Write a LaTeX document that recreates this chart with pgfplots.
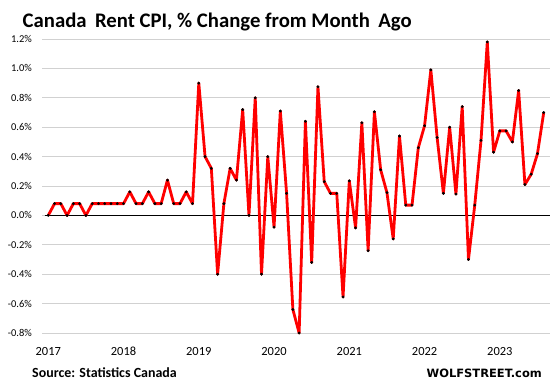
\documentclass[border=0pt]{standalone}
\usepackage{fontspec}
\setmainfont{Carlito}
\newfontfamily\dejavu{DejaVu Sans}
\usepackage{pgfplots}
\pgfplotsset{compat=1.18}
\begin{document}
\begin{tikzpicture}[x=1bp,y=1bp]
\path[use as bounding box] (0,0) rectangle (554,387);
\begin{axis}[at={(42bp,54bp)}, anchor=south west, scale only axis,
  width=508bp, height=294bp,
  xmin=-1, xmax=80, ymin=-0.8, ymax=1.2,
  axis line style={draw=none}, tick style={draw=none},
  ymajorgrids, grid style={black!18, line width=0.9bp},
  ytick={-0.8,-0.6,-0.4,-0.2,0,0.2,0.4,0.6,0.8,1.0,1.2},
  yticklabels={-0.8\%,-0.6\%,-0.4\%,-0.2\%,0.0\%,0.2\%,0.4\%,0.6\%,0.8\%,1.0\%,1.2\%},
  xtick={0,12,24,36,48,60,72},
  xticklabels={2017,2018,2019,2020,2021,2022,2023},
  yticklabel style={font=\fontsize{10.5}{12}\selectfont, anchor=east, inner sep=0pt, xshift=-10bp},
  xticklabel style={font=\fontsize{12.5}{14}\selectfont, anchor=base, inner sep=0pt, yshift=-22bp},
  clip=false]
\addplot[black, line width=1bp, forget plot] coordinates {(-0.6,0) (80,0)};
\addplot[red, line width=2.8bp, line join=round, mark=*, mark size=1.3bp, mark options={black, fill=black, line width=0.3bp}] coordinates {
(0,0) (1,0.08) (2,0.08) (3,0) (4,0.08) (5,0.08) (6,0) (7,0.08) (8,0.08) (9,0.08)
(10,0.08) (11,0.08) (12,0.08) (13,0.16) (14,0.08) (15,0.08) (16,0.16) (17,0.08) (18,0.08) (19,0.24)
(20,0.08) (21,0.08) (22,0.16) (23,0.08) (24,0.90) (25,0.40) (26,0.32) (27,-0.40) (28,0.08) (29,0.32)
(30,0.24) (31,0.72) (32,0.0) (33,0.80) (34,-0.40) (35,0.40) (36,-0.08) (37,0.71) (38,0.15) (39,-0.64)
(40,-0.80) (41,0.64) (42,-0.32) (43,0.875) (44,0.23) (45,0.15) (46,0.15) (47,-0.555) (48,0.235) (49,-0.085)
(50,0.63) (51,-0.24) (52,0.705) (53,0.31) (54,0.155) (55,-0.16) (56,0.54) (57,0.07) (58,0.07) (59,0.46)
(60,0.61) (61,0.99) (62,0.53) (63,0.15) (64,0.60) (65,0.145) (66,0.74) (67,-0.30) (68,0.07) (69,0.51)
(70,1.18) (71,0.43) (72,0.575) (73,0.575) (74,0.50) (75,0.85) (76,0.21) (77,0.28) (78,0.42) (79,0.70)
};
\end{axis}
\node[anchor=base west, inner sep=0pt, font=\fontsize{20.8}{22}\selectfont\bfseries] at (22.5,359.5) {Canada\hspace{0.18em} Rent CPI, \% Change from Month\hspace{0.18em} Ago};
\node[anchor=base west, inner sep=0pt, font=\fontsize{14}{16}\selectfont\bfseries] at (32,10) {Source: Statistics Canada};
\node[anchor=base east, inner sep=0pt, font=\dejavu\fontsize{11.5}{13}\selectfont\bfseries] at (542,10) {WOLFSTREET.com};
\end{tikzpicture}
\end{document}
